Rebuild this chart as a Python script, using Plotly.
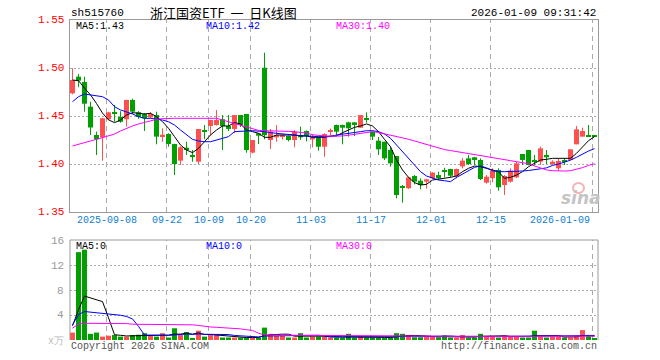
import plotly.graph_objects as go

# ---------------- data ----------------
tick_labels = ["2025-09-08", "09-22", "10-09", "10-20", "11-03", "11-17", "12-01", "12-15", "2026-01-09"]
tick_idx = [6, 16, 23, 30, 40, 50, 60, 70, 87]
price_ticks = [1.35, 1.40, 1.45, 1.50, 1.55]
vol_ticks = [4, 8, 12, 16]

open_ = [1.4736, 1.4910, 1.4854, 1.4597, 1.4302, 1.4278, 1.4466, 1.4530, 1.4490, 1.4466,
         1.4667, 1.4540, 1.4520, 1.4486, 1.4510, 1.4290, 1.4312, 1.4208, 1.4035, 1.4170,
         1.4085, 1.4024, 1.4346, 1.4396, 1.4406, 1.4466, 1.4396, 1.4365, 1.4510, 1.4521,
         1.4118, 1.4320, 1.5003, 1.4250, 1.4278, 1.4285, 1.4292, 1.4250, 1.4302, 1.4344,
         1.4257, 1.4278, 1.4180, 1.4335, 1.4406, 1.4406, 1.4434, 1.4434, 1.4378, 1.4469,
         1.4337, 1.4243, 1.4232, 1.4146, 1.4083, 1.3757, 1.3747, 1.3875, 1.3826, 1.3816,
         1.3851, 1.3885, 1.3922, 1.3948, 1.3875, 1.3975, 1.4059, 1.4070, 1.4042, 1.3806,
         1.3852, 1.3938, 1.3781, 1.3816, 1.3861, 1.4104, 1.4146, 1.4033, 1.4024, 1.4094,
         1.4000, 1.3955, 1.4033, 1.4042, 1.4205, 1.4285, 1.4294, 1.4292]
close = [1.4875, 1.4868, 1.4628, 1.4380, 1.4258, 1.4476, 1.4538, 1.4525, 1.4440, 1.4667,
         1.4545, 1.4490, 1.4476, 1.4520, 1.4285, 1.4305, 1.4208, 1.4000, 1.4174, 1.4146,
         1.4080, 1.4365, 1.4340, 1.4458, 1.4458, 1.4396, 1.4365, 1.4510, 1.4406, 1.4146,
         1.4250, 1.4295, 1.4300, 1.4337, 1.4302, 1.4300, 1.4250, 1.4337, 1.4278, 1.4292,
         1.4278, 1.4180, 1.4312, 1.4344, 1.4337, 1.4378, 1.4372, 1.4406, 1.4510, 1.4466,
         1.4285, 1.4153, 1.4059, 1.4007, 1.3677, 1.3753, 1.3861, 1.3816, 1.3781, 1.3840,
         1.3910, 1.3851, 1.3918, 1.3878, 1.3948, 1.4035, 1.4000, 1.4042, 1.3844, 1.3868,
         1.3931, 1.3757, 1.3875, 1.3931, 1.4007, 1.4042, 1.3990, 1.4029, 1.4163, 1.4070,
         1.4024, 1.4031, 1.4029, 1.4153, 1.4361, 1.4344, 1.4290, 1.4290]
high = [1.4997, 1.4938, 1.4910, 1.4649, 1.4337, 1.4482, 1.4545, 1.4615, 1.4550, 1.4670,
        1.4680, 1.4550, 1.4530, 1.4540, 1.4545, 1.4372, 1.4320, 1.4210, 1.4185, 1.4232,
        1.4146, 1.4365, 1.4406, 1.4460, 1.4563, 1.4510, 1.4510, 1.4510, 1.4510, 1.4521,
        1.4250, 1.4320, 1.5160, 1.4365, 1.4406, 1.4310, 1.4295, 1.4354, 1.4389, 1.4350,
        1.4306, 1.4280, 1.4320, 1.4370, 1.4410, 1.4410, 1.4440, 1.4434, 1.4510, 1.4538,
        1.4340, 1.4281, 1.4232, 1.4180, 1.4083, 1.3781, 1.3865, 1.3885, 1.3851, 1.3845,
        1.3915, 1.3920, 1.3961, 1.3950, 1.3952, 1.4060, 1.4094, 1.4075, 1.4059, 1.3885,
        1.3955, 1.3955, 1.3885, 1.3955, 1.4024, 1.4104, 1.4146, 1.4094, 1.4181, 1.4146,
        1.4038, 1.4059, 1.4059, 1.4153, 1.4396, 1.4378, 1.4406, 1.4300]
low = [1.4726, 1.4800, 1.4545, 1.4302, 1.4094, 1.4034, 1.4460, 1.4440, 1.4430, 1.4390,
       1.4520, 1.4470, 1.4344, 1.4476, 1.4205, 1.4232, 1.4180, 1.3885, 1.3990, 1.4094,
       1.4024, 1.4000, 1.4257, 1.4302, 1.4400, 1.4146, 1.4344, 1.4320, 1.4385, 1.4118,
       1.4110, 1.4208, 1.4257, 1.4156, 1.4232, 1.4254, 1.4236, 1.4174, 1.4250, 1.4236,
       1.4174, 1.4139, 1.4076, 1.4300, 1.4295, 1.4205, 1.4285, 1.4292, 1.4378, 1.4430,
       1.4250, 1.4094, 1.4042, 1.3972, 1.3642, 1.3597, 1.3740, 1.3788, 1.3736, 1.3743,
       1.3845, 1.3837, 1.3861, 1.3858, 1.3851, 1.3955, 1.3990, 1.3990, 1.3833, 1.3795,
       1.3810, 1.3722, 1.3677, 1.3806, 1.3852, 1.3990, 1.3986, 1.3986, 1.3990, 1.4000,
       1.3990, 1.3931, 1.3990, 1.4042, 1.4205, 1.4285, 1.4285, 1.4285]

ma5 = [1.4875, 1.4868, 1.4790, 1.4720, 1.4630, 1.4530, 1.4460, 1.4431, 1.4458, 1.4510,
       1.4535, 1.4530, 1.4521, 1.4528, 1.4493, 1.4441, 1.4372, 1.4285, 1.4198, 1.4146,
       1.4118, 1.4163, 1.4232, 1.4302, 1.4354, 1.4396, 1.4396, 1.4431, 1.4417, 1.4354,
       1.4337, 1.4320, 1.4278, 1.4278, 1.4302, 1.4302, 1.4302, 1.4302, 1.4292, 1.4292,
       1.4278, 1.4278, 1.4278, 1.4292, 1.4292, 1.4326, 1.4354, 1.4382, 1.4396, 1.4417,
       1.4396, 1.4337, 1.4257, 1.4180, 1.4042, 1.3938, 1.3861, 1.3806, 1.3781, 1.3788,
       1.3833, 1.3840, 1.3851, 1.3861, 1.3875, 1.3920, 1.3955, 1.3979, 1.3972, 1.3955,
       1.3944, 1.3920, 1.3851, 1.3861, 1.3885, 1.3920, 1.3972, 1.4007, 1.4042, 1.4049,
       1.4059, 1.4059, 1.4059, 1.4059, 1.4111, 1.4180, 1.4243, 1.4285]
ma10 = [1.4649, 1.4701, 1.4729, 1.4719, 1.4708, 1.4701, 1.4667, 1.4597, 1.4563, 1.4545,
        1.4521, 1.4493, 1.4476, 1.4476, 1.4469, 1.4458, 1.4440, 1.4406, 1.4354, 1.4302,
        1.4257, 1.4240, 1.4232, 1.4232, 1.4250, 1.4268, 1.4285, 1.4337, 1.4344, 1.4344,
        1.4347, 1.4344, 1.4337, 1.4326, 1.4320, 1.4313, 1.4302, 1.4302, 1.4295, 1.4292,
        1.4285, 1.4285, 1.4285, 1.4285, 1.4302, 1.4309, 1.4320, 1.4326, 1.4337, 1.4347,
        1.4347, 1.4337, 1.4313, 1.4268, 1.4198, 1.4128, 1.4059, 1.3990, 1.3920, 1.3875,
        1.3851, 1.3833, 1.3826, 1.3816, 1.3860, 1.3895, 1.3930, 1.3965, 1.3980, 1.3960,
        1.3930, 1.3920, 1.3920, 1.3920, 1.3920, 1.3927, 1.3932, 1.3938, 1.3950, 1.3960,
        1.3985, 1.4000, 1.4016, 1.4040, 1.4070, 1.4105, 1.4135, 1.4160]
ma30 = [1.4188, 1.4208, 1.4222, 1.4240, 1.4257, 1.4278, 1.4292, 1.4312, 1.4344, 1.4372,
        1.4396, 1.4417, 1.4434, 1.4448, 1.4465, 1.4472, 1.4476, 1.4476, 1.4476, 1.4476,
        1.4476, 1.4476, 1.4476, 1.4476, 1.4476, 1.4458, 1.4440, 1.4420, 1.4398, 1.4380,
        1.4362, 1.4350, 1.4347, 1.4347, 1.4346, 1.4344, 1.4340, 1.4336, 1.4330, 1.4322,
        1.4305, 1.4297, 1.4292, 1.4290, 1.4288, 1.4292, 1.4300, 1.4310, 1.4320, 1.4328,
        1.4337, 1.4328, 1.4315, 1.4300, 1.4290, 1.4275, 1.4258, 1.4240, 1.4222, 1.4205,
        1.4182, 1.4165, 1.4150, 1.4140, 1.4130, 1.4122, 1.4108, 1.4097, 1.4087, 1.4076,
        1.4066, 1.4056, 1.4046, 1.4035, 1.4024, 1.4014, 1.4003, 1.3980, 1.3958, 1.3938,
        1.3930, 1.3927, 1.3927, 1.3930, 1.3945, 1.3962, 1.3985, 1.4003]

volume = [1.2, 14.2, 14.6, 1.0, 1.2, 0.55, 0.7, 0.8, 0.55, 0.55,
          0.8, 0.85, 1.1, 0.8, 0.55, 1.1, 0.4, 1.9, 0.8, 1.3,
          0.3, 1.5, 0.55, 0.8, 0.8, 0.4, 0.4, 0.4, 0.4, 0.4,
          0.4, 0.4, 2.0, 1.0, 0.65, 0.65, 0.4, 0.4, 1.1, 0.4,
          0.55, 0.55, 0.55, 0.4, 0.4, 0.4, 1.0, 0.4, 0.55, 0.4,
          0.4, 0.4, 0.4, 0.4, 1.1, 1.0, 0.75, 0.45, 0.45, 0.55,
          0.55, 0.45, 0.75, 0.4, 0.4, 0.8, 0.4, 0.4, 1.0, 0.55,
          0.65, 0.4, 0.75, 0.55, 0.65, 0.4, 0.4, 1.5, 0.55, 0.4,
          0.55, 0.55, 0.4, 0.4, 0.65, 1.6, 0.8, 0.25]
vol_ma5 = [2.3, 4.9, 7.1, 6.8, 6.4, 6.2, 3.6, 0.85, 0.76, 0.65,
           0.68, 0.71, 0.77, 0.82, 0.82, 0.88, 0.79, 0.95, 0.95, 1.1,
           0.94, 1.16, 0.89, 0.89, 0.79, 0.81, 0.59, 0.56, 0.48, 0.4,
           0.4, 0.4, 0.72, 0.84, 0.89, 0.94, 0.94, 0.62, 0.64, 0.59,
           0.57, 0.6, 0.63, 0.49, 0.49, 0.46, 0.55, 0.52, 0.55, 0.55,
           0.55, 0.43, 0.43, 0.4, 0.54, 0.66, 0.73, 0.74, 0.75, 0.64,
           0.55, 0.49, 0.55, 0.54, 0.51, 0.56, 0.55, 0.48, 0.6, 0.63,
           0.6, 0.6, 0.67, 0.58, 0.6, 0.55, 0.55, 0.7, 0.7, 0.66,
           0.68, 0.71, 0.49, 0.47, 0.51, 0.72, 0.77, 0.74]
vol_ma10 = [2.45, 4.1, 4.6, 4.5, 4.45, 4.35, 4.2, 4.1, 4.0, 3.8,
            3.4, 2.2, 0.81, 0.79, 0.73, 0.78, 0.75, 0.86, 0.89, 0.96,
            0.91, 0.98, 0.92, 0.92, 0.95, 0.88, 0.88, 0.73, 0.69, 0.6,
            0.6, 0.5, 0.64, 0.66, 0.65, 0.67, 0.67, 0.67, 0.74, 0.74,
            0.76, 0.77, 0.63, 0.57, 0.54, 0.52, 0.58, 0.58, 0.52, 0.52,
            0.5, 0.49, 0.48, 0.48, 0.55, 0.6, 0.58, 0.59, 0.58, 0.59,
            0.6, 0.61, 0.65, 0.65, 0.58, 0.56, 0.52, 0.52, 0.57, 0.57,
            0.58, 0.58, 0.58, 0.59, 0.62, 0.58, 0.58, 0.69, 0.64, 0.63,
            0.62, 0.63, 0.6, 0.58, 0.58, 0.7, 0.74, 0.62]
vol_ma30 = [1.9, 2.6, 2.7, 2.7, 2.7, 2.7, 2.7, 2.7, 2.7, 2.65,
            2.55, 2.55, 2.55, 2.55, 2.55, 2.55, 2.55, 2.55, 2.55, 2.55,
            2.45, 2.35, 2.2, 2.1, 2.05, 2.0, 1.95, 1.9, 1.8, 1.65,
            1.55, 1.1, 0.8, 0.79, 0.78, 0.77, 0.76, 0.75, 0.74, 0.73,
            0.72, 0.71, 0.7, 0.69, 0.68, 0.67, 0.66, 0.65, 0.64, 0.63,
            0.62, 0.61, 0.6, 0.6, 0.61, 0.62, 0.62, 0.62, 0.62, 0.61,
            0.61, 0.6, 0.6, 0.6, 0.6, 0.6, 0.59, 0.59, 0.59, 0.59,
            0.59, 0.59, 0.59, 0.6, 0.6, 0.6, 0.6, 0.6, 0.61, 0.61,
            0.61, 0.61, 0.61, 0.61, 0.61, 0.62, 0.62, 0.62]

header = {"code": "sh515760", "title": "浙江国资ETF\u00a0\u00a0一\u00a0\u00a0日K线图", "time": "2026-01-09 09:31:42"}
legend_price = ["MA5:1.43", "MA10:1.42", "MA30:1.40"]
legend_vol = ["MA5:0", "MA10:0", "MA30:0"]

# ---------------- styling / layout helpers ----------------
W, H = 660, 360
ML, MR, MT, MB = 70, 62, 20, 20
PW, PH = W - ML - MR, H - MT - MB


def pxx(x):
    return (x - ML) / PW


def pyy(y):
    return (H - MB - y) / PH


RED = "#ff5050"
GREEN = "#00a000"
MONO = "Liberation Mono, DejaVu Sans Mono, monospace"
n = len(close)
idx = list(range(n))
up = [c > o for o, c in zip(open_, close)]
colors = [RED if u else GREEN for u in up]

fig = go.Figure()

# wicks
for flag, col in ((True, RED), (False, GREEN)):
    xs, ys = [], []
    for i in idx:
        if up[i] == flag:
            xs += [i, i, None]
            ys += [low[i], high[i], None]
    fig.add_trace(go.Scatter(x=xs, y=ys, mode="lines", line=dict(color=col, width=1),
                             xaxis="x", yaxis="y", hoverinfo="skip"))

# bodies
fig.add_trace(go.Bar(x=idx, base=[min(o, c) for o, c in zip(open_, close)],
                     y=[max(abs(c - o), 0.0011) for o, c in zip(open_, close)],
                     width=0.8333, marker=dict(color=colors, line=dict(width=0)),
                     xaxis="x", yaxis="y"))

for series, col in ((ma5, "#000000"), (ma10, "#0000ff"), (ma30, "#ff00ff")):
    fig.add_trace(go.Scatter(x=idx, y=series, mode="lines", line=dict(color=col, width=1),
                             xaxis="x", yaxis="y"))

# volume
fig.add_trace(go.Bar(x=idx, y=volume, width=0.8333, marker=dict(color=colors, line=dict(width=0)),
                     xaxis="x2", yaxis="y2"))
for series, col in ((vol_ma5, "#000000"), (vol_ma10, "#0000ff"), (vol_ma30, "#ff00ff")):
    fig.add_trace(go.Scatter(x=idx, y=series, mode="lines", line=dict(color=col, width=1),
                             xaxis="x2", yaxis="y2"))

shapes = []
for t in tick_idx:
    xg = t - 1 / 3
    for y0, y1 in ((pyy(212), pyy(20)), (pyy(340), pyy(240))):
        shapes.append(dict(type="line", xref="x", yref="paper", x0=xg, x1=xg, y0=y0, y1=y1,
                           line=dict(color="#aaaaaa", width=1, dash="5px,4px"), layer="below"))
# volume panel border
for (x0, y0, x1, y1) in ((70, 240, 598, 240), (70, 240, 70, 340), (598, 240, 598, 340)):
    shapes.append(dict(type="line", xref="paper", yref="paper", x0=pxx(x0), x1=pxx(x1),
                       y0=pyy(y0), y1=pyy(y1), line=dict(color="#999999", width=1)))
# sina watermark eye
shapes.append(dict(type="circle", xref="paper", yref="paper", x0=pxx(573), x1=pxx(584),
                   y0=pyy(193), y1=pyy(183), line=dict(color="#f4b4b4", width=2)))

ann = []


def text(s, x, y, color="#000", size=10, anchor="left", family=MONO, **fkw):
    ann.append(dict(text=s, x=pxx(x), y=pyy(y), xref="paper", yref="paper", showarrow=False,
                    xanchor=anchor, yanchor="middle",
                    font=dict(color=color, size=size, family=family, **fkw)))


text(header["code"], 69, 13, size=11)
text(header["title"], 223, 12, size=13, anchor="center", family="Noto Sans CJK SC")
text(header["time"], 598, 13, size=11, anchor="right")
for s, x, c in zip(legend_price, (74, 204, 334), ("#000000", "#0000ff", "#ff00ff")):
    text(s, x, 27, color=c)
for s, x, c in zip(legend_vol, (74, 204, 334), ("#000000", "#0000ff", "#ff00ff")):
    text(s, x, 246, color=c)
text("Copyright 2026 SINA.COM", 69, 346, color="#555555", size=10)
text("http://finance.sina.com.cn", 599, 346, color="#555555", size=10, anchor="right")
text("x万", 66, 341, color="#bbbbbb", size=10, anchor="right")
text("sina", 581, 198, color="#c4c4c4", size=17, anchor="center",
     family="DejaVu Sans, sans-serif", style="italic", weight="bold")

# price tick labels (red) and volume tick labels (gray), placed via the axes' own scales
for v in price_ticks:
    ann.append(dict(text=f"{v:.2f}", x=pxx(66), y=v, xref="paper", yref="y", showarrow=False,
                    xanchor="right", yanchor="middle",
                    font=dict(color="#ff0000", size=11, family=MONO)))
for v in vol_ticks:
    ann.append(dict(text=str(v), x=pxx(66), y=v, xref="paper", yref="y2", showarrow=False,
                    xanchor="right", yanchor="middle",
                    font=dict(color="#999999", size=11, family=MONO)))

for i, (lab, t) in enumerate(zip(tick_labels, tick_idx)):
    last = i == len(tick_labels) - 1
    ann.append(dict(text=lab, x=(t - 1 / 3) if not last else t - 0.4, y=pyy(220), xref="x", yref="paper",
                    showarrow=False, xanchor="right" if last else "center", yanchor="middle",
                    font=dict(color="#1080d0", size=10, family=MONO)))

fig.update_layout(
    width=W, height=H, margin=dict(l=ML, r=MR, t=MT, b=MB),
    paper_bgcolor="white", plot_bgcolor="white", showlegend=False, barmode="overlay",
    xaxis=dict(domain=[0, 1], range=[-0.4167, 87.5833], anchor="y", showticklabels=False,
               showgrid=False, zeroline=False, showline=True, mirror=True, linecolor="#999999", ticks=""),
    yaxis=dict(domain=[pyy(212), 1], range=[1.35, 1.55], tickvals=price_ticks, anchor="x",
               showticklabels=False, showgrid=True,
               gridcolor="#aaaaaa", griddash="2px,2px", gridwidth=1, zeroline=False,
               showline=True, mirror=True, linecolor="#999999", ticks=""),
    xaxis2=dict(domain=[0, 1], range=[-0.4167, 87.5833], anchor="y2", matches="x",
                showticklabels=False, showgrid=False, zeroline=False, showline=False, ticks=""),
    yaxis2=dict(domain=[0, pyy(240)], range=[0, 16.16], tickvals=vol_ticks, showticklabels=False,
                anchor="x2", showgrid=True,
                gridcolor="#aaaaaa", griddash="2px,2px", zeroline=False, showline=False, ticks=""),
    shapes=shapes, annotations=ann,
)

fig.write_html("out.html")
